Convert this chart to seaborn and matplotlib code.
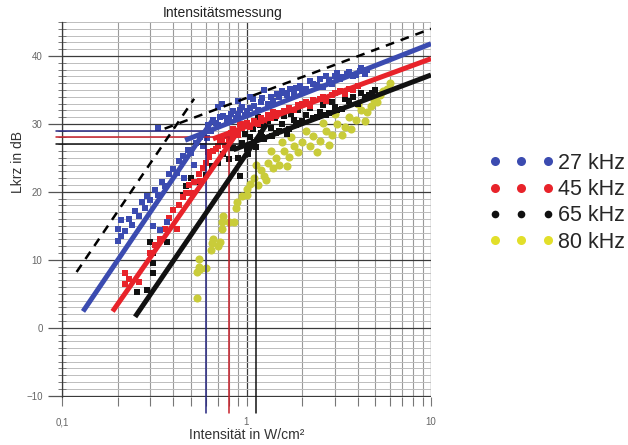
import numpy as np
import pandas as pd
import matplotlib
matplotlib.use("Agg")
import matplotlib.pyplot as plt
import seaborn as sns
from matplotlib.lines import Line2D
from matplotlib.ticker import FixedLocator, LogLocator, FuncFormatter, MultipleLocator, NullFormatter

# ---------------- data ----------------
blue_x = [0.20, 0.20, 0.21, 0.21, 0.22, 0.23, 0.24, 0.25, 0.26, 0.27, 0.28, 0.29, 0.30, 0.31, 0.32,
          0.33, 0.34, 0.35, 0.36, 0.37, 0.38, 0.40, 0.42, 0.43, 0.45, 0.46, 0.48, 0.50, 0.52, 0.53,
          0.56, 0.58, 0.61, 0.33,
          0.62, 0.66, 0.70, 0.75, 0.80, 0.85, 0.90, 0.95, 1.00, 1.08, 1.10, 1.20, 1.30, 1.46, 1.50,
          1.60, 1.72, 1.80, 1.95, 2.10, 2.21, 2.40, 2.50, 2.80, 3.00, 3.20, 3.50, 3.80, 4.10, 4.40,
          0.70, 0.90, 1.25,
          0.64, 0.68, 0.72, 0.78, 0.82, 0.88, 0.92, 0.98, 1.04, 1.15, 1.22, 1.35, 1.40, 1.55, 1.65,
          1.85, 2.00, 2.30, 2.60, 2.70, 2.90, 3.10, 3.30, 3.60, 3.90, 4.20, 4.50, 0.74, 1.05]
blue_y = [12.8, 14.6, 13.5, 15.8, 14.2, 16.0, 15.1, 17.2, 16.4, 18.5, 17.6, 19.4, 18.8, 15.0, 20.3,
          19.6, 14.4, 21.5, 20.8, 15.5, 22.6, 23.4, 22.8, 24.6, 25.3, 22.0, 26.1, 25.7, 23.9, 27.2,
          28.0, 26.8, 27.9, 29.4,
          29.8, 30.6, 29.9, 31.2, 30.8, 31.9, 31.4, 32.5, 31.9, 33.7, 32.6, 33.2, 33.0, 34.4, 33.9,
          34.6, 35.1, 34.5, 35.6, 35.2, 36.3, 35.8, 36.6, 36.4, 37.0, 36.6, 37.3, 37.0, 37.8, 37.4,
          32.5, 33.3, 35.0,
          28.9, 30.2, 31.0, 30.3, 31.5, 30.9, 32.0, 31.3, 32.4, 32.1, 33.8, 34.0, 33.4, 34.9, 34.2,
          35.3, 34.9, 35.9, 35.4, 37.0, 35.9, 37.5, 36.9, 37.7, 37.2, 38.3, 37.9, 33.0, 34.0]

red_x = [0.22, 0.22, 0.23, 0.26, 0.30, 0.32, 0.34, 0.36, 0.37, 0.38, 0.40, 0.42, 0.43, 0.45, 0.47,
         0.49, 0.52, 0.55, 0.58, 0.60, 0.63, 0.66, 0.70, 0.74, 0.78, 0.82, 0.88, 0.95, 1.00, 1.10,
         1.20, 1.30, 1.40, 1.50, 1.70, 1.90, 2.10, 2.30, 2.60, 2.90, 3.20, 3.60, 4.00,
         0.62, 0.68, 0.72, 0.76, 0.80, 0.85, 0.90, 0.92, 1.05, 1.15, 1.25, 1.35, 1.45, 1.60, 1.80,
         2.00, 2.20, 2.50, 2.70, 3.00, 3.40, 3.80, 0.50, 0.56]
red_y = [6.5, 8.0, 7.2, 6.8, 11.0, 12.2, 13.0, 14.6, 15.5, 16.2, 17.3, 14.5, 18.0, 19.2, 19.8,
         21.0, 21.5, 22.6, 23.5, 24.3, 25.1, 26.0, 26.8, 27.5, 28.2, 28.6, 29.0, 29.4, 30.1, 30.5,
         30.9, 31.3, 31.7, 31.6, 32.4, 32.8, 33.2, 33.5, 34.0, 34.3, 34.8, 35.1, 35.6,
         25.8, 26.3, 27.6, 26.9, 27.8, 29.2, 28.4, 30.0, 29.6, 30.0, 30.4, 30.8, 31.2, 31.9, 32.1,
         32.9, 32.7, 33.7, 33.4, 34.5, 34.4, 35.0, 19.8, 21.6]

black_x = [0.255, 0.29, 0.30, 0.31, 0.31, 0.31, 0.37, 0.45, 0.47, 0.50, 0.55, 0.60, 0.65, 0.70, 0.75,
           0.80, 0.85, 0.92, 0.95, 1.00, 1.05, 1.10, 1.20, 1.25, 1.35, 1.45, 1.55, 1.70, 1.80, 1.95,
           2.10, 2.30, 2.50, 2.70, 3.00, 3.30, 3.60, 4.00, 4.40, 4.80,
           0.98, 1.02, 1.08, 1.12, 1.18, 1.22, 1.30, 1.38, 1.42, 1.50, 1.60, 1.65, 1.75, 1.85, 1.90,
           2.00, 2.20, 2.40, 2.60, 2.80, 2.90, 3.10, 3.40, 3.80, 4.20, 4.60, 5.00, 0.90, 0.88, 1.15]
black_y = [5.3, 5.6, 12.6, 11.0, 9.5, 8.0, 12.6, 19.5, 20.8, 22.0, 21.5, 22.5, 23.8, 24.2, 25.6,
           24.8, 26.5, 22.3, 27.2, 26.3, 28.0, 27.4, 28.6, 27.8, 29.4, 28.7, 30.0, 29.3, 30.6, 30.2,
           31.3, 30.8, 31.8, 31.3, 32.5, 32.2, 33.4, 33.0, 34.0, 34.6,
           28.5, 25.5, 29.2, 26.6, 29.8, 28.0, 30.5, 28.2, 30.8, 29.0, 31.2, 28.5, 31.5, 29.8, 32.0,
           30.4, 32.4, 31.0, 32.8, 31.6, 33.2, 32.0, 33.6, 34.0, 34.5, 34.2, 35.0, 25.0, 28.8, 31.0]

yellow_x = [0.54, 0.54, 0.55, 0.55, 0.56, 0.60, 0.64, 0.65, 0.66, 0.70, 0.72, 0.74, 0.74, 0.75, 0.80,
            0.86, 0.88, 0.89, 0.95, 1.00, 1.00, 1.05, 1.10, 1.15, 1.20, 1.25, 1.30, 1.40, 1.45, 1.50,
            1.60, 1.70, 1.80, 1.90, 2.00, 2.20, 2.30, 2.50, 2.70, 2.90, 3.10, 3.40, 3.60, 3.90, 4.20,
            4.50, 4.90, 5.30, 5.80, 6.00,
            1.35, 1.55, 1.65, 1.75, 2.10, 2.40, 2.60, 2.80, 3.00, 3.30, 3.70, 4.00, 4.40, 4.70, 5.10,
            5.50, 1.12, 1.28]
yellow_y = [4.4, 8.2, 9.0, 10.1, 8.6, 8.8, 11.5, 12.4, 13.0, 12.1, 12.6, 14.5, 15.5, 16.4, 15.6,
            15.5, 17.6, 18.5, 19.4, 20.4, 19.5, 21.2, 22.0, 21.0, 23.2, 22.4, 24.2, 23.5, 25.0, 24.0,
            26.0, 25.1, 26.8, 25.8, 27.4, 26.7, 28.2, 27.5, 29.0, 28.4, 30.0, 29.6, 31.0, 30.6, 32.0,
            31.8, 33.5, 34.3, 35.2, 36.0,
            26.0, 27.3, 23.8, 28.0, 29.0, 25.8, 30.2, 26.9, 31.5, 28.3, 29.2, 33.0, 30.4, 32.6, 33.2,
            34.8, 24.0, 21.8]

# fitted regression lines (two segments each) and the dashed reference curve
blue_steep_x, blue_steep_y = [0.13, 0.66], [2.4, 30.7]
blue_flat_x, blue_flat_y = [0.465, 10.0], [27.6, 41.8]
red_steep_x, red_steep_y = [0.188, 0.98], [2.4, 30.3]
red_flat_x, red_flat_y = [0.658, 10.0], [27.8, 39.6]
black_steep_x, black_steep_y = [0.249, 1.29], [1.6, 30.0]
black_flat_x, black_flat_y = [0.85, 10.0], [26.2, 37.2]
dash_steep_x, dash_steep_y = [0.12, 0.52], [8.2, 33.7]
dash_flat_x, dash_flat_y = [0.36, 10.0], [29.3, 44.0]

# threshold markers: level (dB) and intensity (W/cm²)
thr_levels = [29, 28, 27]
thr_intensity = [0.60, 0.80, 1.12]

legend_labels = ["27 kHz", "45 kHz", "65 kHz", "80 kHz"]
x_tick_vals = [0.1, 1, 10]
x_tick_text = ["0,1", "1", "10"]
y_tick_vals = [-10, 0, 10, 20, 30, 40]

# ---------------- style ----------------
sns.set_theme(style="white")
plt.rcParams["font.family"] = ["Liberation Sans", "DejaVu Sans"]

C_BLUE = "#3b4bb0"
C_RED = "#e8232a"
C_BLACK = "#111111"
C_YEL_PTS = "#c9cc3a"
C_YEL_LEG = "#e2df2a"

W, H = 628, 445
fig = plt.figure(figsize=(W / 100, H / 100), dpi=100)
ax = fig.add_axes([62 / W, 1 - 397 / H, (431 - 62) / W, (397 - 22) / H])
ax.set_xscale("log")
ax.set_xlim(0.1, 10)
ax.set_ylim(-10.2, 45)

# grid
ax.xaxis.set_major_locator(FixedLocator(x_tick_vals))
ax.xaxis.set_minor_locator(LogLocator(base=10, subs=np.arange(2, 10)))
ax.xaxis.set_major_formatter(FuncFormatter(lambda v, p: x_tick_text[x_tick_vals.index(v)] if v in x_tick_vals else ""))
ax.xaxis.set_minor_formatter(NullFormatter())
ax.yaxis.set_major_locator(FixedLocator(y_tick_vals))
ax.yaxis.set_minor_locator(MultipleLocator(1))
ax.grid(False)
ax.xaxis.grid(True, which="major", color="#3a3a3a", lw=0.9, zorder=0)
ax.xaxis.grid(True, which="minor", color="#9a9a9a", lw=0.8, zorder=0)
ax.yaxis.grid(True, which="major", color="#3a3a3a", lw=0.9, zorder=0)
ax.yaxis.grid(True, which="minor", color="#bdbdbd", lw=0.7, zorder=0)
ax.set_axisbelow(True)
for s in ["top", "right", "bottom"]:
    ax.spines[s].set_visible(False)
ax.spines["left"].set_color("#3a3a3a")
ax.spines["left"].set_linewidth(0.9)

ax.tick_params(axis="x", which="both", direction="out", length=6.5, width=0.8, color="#777777",
               labelsize=7, labelcolor="#666666", pad=8, bottom=True)
ax.tick_params(axis="y", which="major", direction="out", length=10, width=0.9, color="#555555",
               labelsize=7, labelcolor="#666666", pad=4, left=True)
ax.tick_params(axis="y", which="minor", direction="inout", length=6, width=0.7, color="#777777", left=True)

# scatter points
pts = [
    (yellow_x, yellow_y, C_YEL_PTS, "o", 34),
    (black_x, black_y, C_BLACK, "s", 13),
    (red_x, red_y, C_RED, "s", 13),
    (blue_x, blue_y, C_BLUE, "s", 13),
]
for i, (xs, ys, c, m, s) in enumerate(pts):
    df = pd.DataFrame({"x": xs, "y": ys})
    sns.scatterplot(data=df, x="x", y="y", ax=ax, color=c, marker=m, s=s, linewidth=0, zorder=3 + i * 0.1,
                    legend=False)

# threshold lines
thr_colors = ["#24247e", "#c61f2a", "#111111"]
for lvl, xi, c in zip(thr_levels, thr_intensity, thr_colors):
    ax.plot([0.093, xi], [lvl, lvl], color=c, lw=1.1, zorder=4, clip_on=False)
    ax.plot([xi, xi], [lvl, -12.6], color=c, lw=1.1, zorder=4, clip_on=False)

# fitted lines
lines = [
    (black_steep_x, black_steep_y, C_BLACK), (black_flat_x, black_flat_y, C_BLACK),
    (red_steep_x, red_steep_y, C_RED), (red_flat_x, red_flat_y, C_RED),
    (blue_steep_x, blue_steep_y, C_BLUE), (blue_flat_x, blue_flat_y, C_BLUE),
]
for xs, ys, c in lines:
    sns.lineplot(x=xs, y=ys, ax=ax, color=c, lw=3.6, estimator=None, sort=False, zorder=5,
                 solid_capstyle="butt")
for xs, ys in [(dash_steep_x, dash_steep_y), (dash_flat_x, dash_flat_y)]:
    sns.lineplot(x=xs, y=ys, ax=ax, color="black", lw=1.8, estimator=None, sort=False, zorder=6,
                 linestyle=(0, (3.5, 2.8)))

ax.set_xlabel("")
ax.set_ylabel("")

# titles / labels
fig.text(223 / W, 1 - 13 / H, "Intensitätsmessung", ha="center", va="center", fontsize=10, color="#222222")
fig.text(247 / W, 1 - 435 / H, "Intensität in W/cm²", ha="center", va="center", fontsize=10, color="#333333")
fig.text(18 / W, 1 - 162 / H, "Lkrz in dB", ha="center", va="center", rotation=90, fontsize=10, color="#333333")

# legend
leg_colors = [C_BLUE, C_RED, C_BLACK, C_YEL_LEG]
leg_sizes = [6.5, 6.5, 5.5, 6.5]
handles = [Line2D([0], [0], linestyle="none", marker="o", markersize=ms, color=c, markeredgewidth=0)
           for c, ms in zip(leg_colors, leg_sizes)]
fig.legend(handles, legend_labels, numpoints=3, handlelength=3.06, handletextpad=0.15,
           labelspacing=0.24, fontsize=15.5, frameon=False, loc="upper left",
           bbox_to_anchor=(488.5 / W, 1 - 153 / H), borderpad=0, borderaxespad=0)

fig.savefig("out.png", dpi=100)
